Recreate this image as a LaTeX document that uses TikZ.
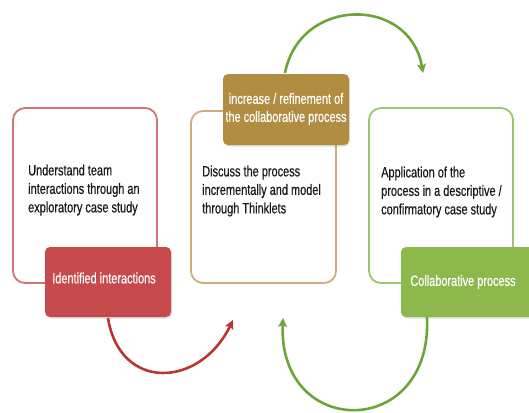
\documentclass[tikz,border=0pt]{standalone}
\usepackage{fontspec}
\setmainfont{Liberation Sans}[FakeStretch=0.73,FakeBold=0.5]
\usetikzlibrary{arrows.meta,shadows}
\definecolor{redline}{HTML}{D27474}
\definecolor{redfill}{HTML}{C64A4B}
\definecolor{redarrow}{HTML}{B9372F}
\definecolor{tanline}{HTML}{CDAE78}
\definecolor{tanfill}{HTML}{B18D41}
\definecolor{greenline}{HTML}{9DC56C}
\definecolor{greenfill}{HTML}{8DB84B}
\definecolor{greenarrow}{HTML}{6DA538}
\definecolor{bodytext}{HTML}{1A1A1A}
\begin{document}
\begin{tikzpicture}[x=1pt,y=-1pt,
  box/.style={line width=1.8pt, rounded corners=12pt, fill=white},
  label/.style={rounded corners=5pt, drop shadow={opacity=0.25, shadow xshift=1pt, shadow yshift=-1.5pt}},
  labeltext/.style={text=white, align=center, font=\fontsize{15}{18}\selectfont},
  body/.style={anchor=west, align=left, text=bodytext, font=\fontsize{15}{18.5}\selectfont, inner sep=0pt},
  arc/.style={line width=2.6pt, -{Stealth[length=9pt,width=9pt,inset=2pt]}}]
\useasboundingbox (0,0) rectangle (529,412);
% boxes
\draw[box, draw=redline] (13,108) rectangle (157,283);
\draw[box, draw=tanline] (191,111) rectangle (336,283);
\draw[box, draw=greenline] (369,108) rectangle (513,283);
% body texts
\node[body] (t1) at (28,190) {Understand team\\interactions through an\\exploratory case study};
\node[body] (t2) at (202,191) {Discuss the process\\incrementally and model\\through Thinklets};
\node[body] (t3) at (381,192) {Application of the\\process in a descriptive /\\confirmatory case study};
% labels
\path[label, fill=redfill] (45,247) rectangle (171,317);
\node[labeltext] (l1) at (104,278) {Identified interactions};
\path[label, fill=tanfill] (223,74) rectangle (349,145);
\node[labeltext] (l2) at (286,109) {increase / refinement of\\the collaborative process};
\path[label, fill=greenfill] (401,247) rectangle (535,317);
\node[labeltext] (l3) at (463,282) {Collaborative process};
% arrows
\coordinate (r0) at (108,318);
\coordinate (r1) at (233,320);
\coordinate (g0) at (285,73);
\coordinate (g1) at (423,73);
\coordinate (b0) at (427,317);
\coordinate (b1) at (283,318);
\draw[arc, redarrow] (r0) .. controls (120,392) and (200,388) .. (r1);
\draw[arc, greenarrow] (g0) .. controls (300,-4) and (410,-4) .. (g1);
\draw[arc, greenarrow] (b0) .. controls (433,440) and (278,440) .. (b1);
\end{tikzpicture}
\end{document}
